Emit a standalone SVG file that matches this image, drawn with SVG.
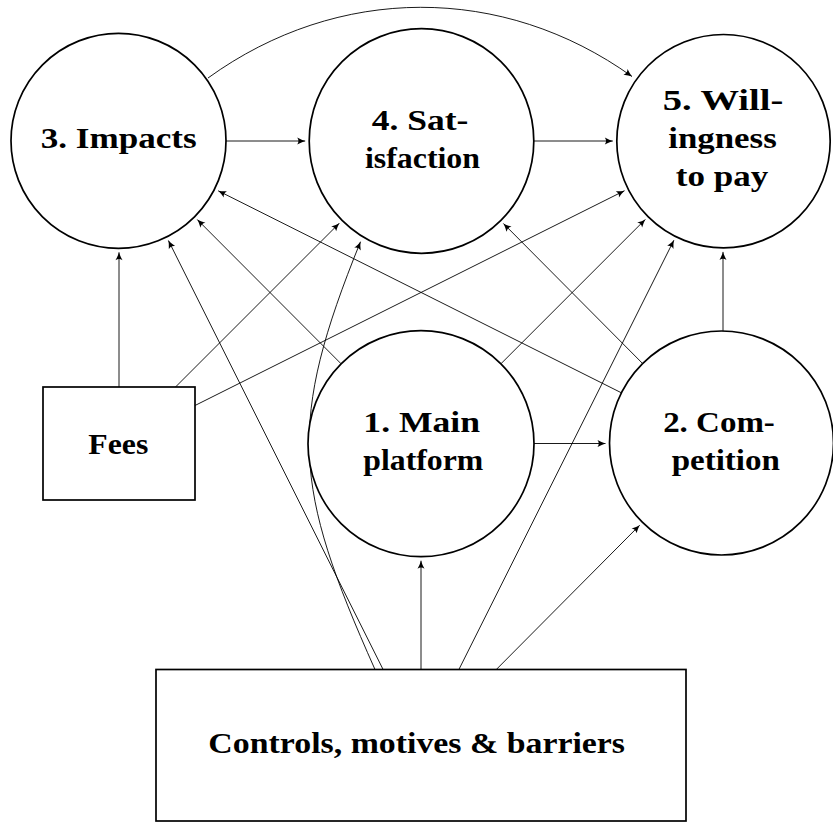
<svg xmlns="http://www.w3.org/2000/svg" width="833" height="823" viewBox="0 0 833 823">
  <style>
    .node { fill: #fff; stroke: #000; stroke-width: 1.7; }
    .lbl { font-family: "Liberation Serif", "Times New Roman", serif; font-weight: bold; font-size: 30px; fill: #000; text-anchor: middle; }
    .edge { fill: none; stroke: #000; stroke-width: 0.9; marker-end: url(#ah); }
  </style>
  <defs>
    <marker id="ah" viewBox="-9 -5 10 10" markerWidth="10" markerHeight="10" refX="0" refY="0" orient="auto" markerUnits="userSpaceOnUse">
      <path d="M0,0 Q-3.5,-1 -8,-3.5 Q-5.5,0 -8,3.5 Q-3.5,1 0,0 Z" fill="#000"/>
    </marker>
  </defs>
  <rect width="833" height="823" fill="#fff"/>

  <g id="connectors">
    <path class="edge" d="M226,141 L305.2,141"/>
    <path class="edge" d="M533.8,141 L612.8,141"/>
    <path class="edge" d="M534,443.5 L605.5,443.5"/>
    <path class="edge" d="M119,387 L119,252.3"/>
    <path class="edge" d="M723,331 L723,251.9"/>
    <path class="edge" d="M421,669.5 L421,560.7"/>
    <path class="edge" d="M175.5,387 L339.3,223.2"/>
    <path class="edge" d="M195,405.5 L624.5,190.7"/>
    <path class="edge" d="M383.1,669.5 L168.4,240.5"/>
    <path class="edge" d="M458.9,669.5 L673.9,240.2"/>
    <path class="edge" d="M496.3,669.5 L639.7,525.2"/>
    <path class="edge" d="M500.9,363.8 L645.3,219.4"/>
    <path class="edge" d="M341.1,363.8 L197.3,219.6"/>
    <path class="edge" d="M621.4,392.8 L218.2,190.8"/>
    <path class="edge" d="M642.6,363.5 L503.4,223.5"/>
    <path class="edge" d="M208,78 C338,-16 503,-16 632,76.5"/>
    <path class="edge" d="M375,669.5 C293,486 287,423 360.5,241.7"/>
  </g>

  <g id="n3">
    <circle class="node" cx="118.5" cy="140.8" r="107.5"/>
    <text class="lbl" x="118.7" y="148" textLength="156" lengthAdjust="spacingAndGlyphs">3. Impacts</text>
  </g>
  <g id="n4">
    <circle class="node" cx="421.5" cy="141" r="112.3"/>
    <text class="lbl" x="420" y="129.5" textLength="96.6" lengthAdjust="spacingAndGlyphs">4. Sat-</text>
    <text class="lbl" x="422.5" y="167.8" textLength="115" lengthAdjust="spacingAndGlyphs">isfaction</text>
  </g>
  <g id="n5">
    <circle class="node" cx="723.5" cy="141.2" r="106.7"/>
    <text class="lbl" x="723" y="110" textLength="120.6" lengthAdjust="spacingAndGlyphs">5. Will-</text>
    <text class="lbl" x="722.5" y="148.3" textLength="108.4" lengthAdjust="spacingAndGlyphs">ingness</text>
    <text class="lbl" x="722" y="186" textLength="92.3" lengthAdjust="spacingAndGlyphs">to pay</text>
  </g>
  <g id="n1">
    <circle class="node" cx="421" cy="443.7" r="113"/>
    <text class="lbl" x="421.7" y="431.7" textLength="116.7" lengthAdjust="spacingAndGlyphs">1. Main</text>
    <text class="lbl" x="423.3" y="470" textLength="120" lengthAdjust="spacingAndGlyphs">platform</text>
  </g>
  <g id="n2">
    <circle class="node" cx="721.5" cy="443" r="112"/>
    <text class="lbl" x="719" y="431.7" textLength="111.7" lengthAdjust="spacingAndGlyphs">2. Com-</text>
    <text class="lbl" x="725.8" y="470" textLength="108.3" lengthAdjust="spacingAndGlyphs">petition</text>
  </g>
  <g id="fees">
    <rect class="node" x="43" y="387" width="152" height="113"/>
    <text class="lbl" x="118.3" y="454" textLength="60" lengthAdjust="spacingAndGlyphs">Fees</text>
  </g>
  <g id="controls">
    <rect class="node" x="156" y="669.5" width="530" height="151.5"/>
    <text class="lbl" x="416.7" y="752.5" textLength="416.7" lengthAdjust="spacingAndGlyphs">Controls, motives &amp; barriers</text>
  </g>
</svg>
